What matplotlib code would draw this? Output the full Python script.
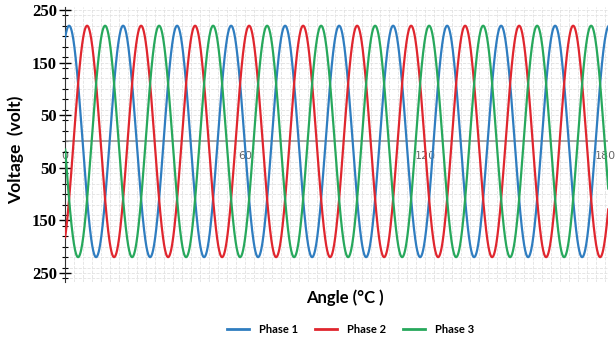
"""
Three-phase voltage waveforms over angle.
"""

import numpy as np
import matplotlib
matplotlib.use('Agg')
import matplotlib.pyplot as plt
from matplotlib.ticker import MultipleLocator, FixedLocator, FixedFormatter

# Waveform parameters
phase_names = ['Phase 1', 'Phase 2', 'Phase 3']
phase_colors = ['#2f7dc0', '#e0262e', '#27a85c']
amplitude = 220            # peak voltage (volt)
period = 18                # angle units per cycle
peak_offsets = [1.3, 7.3, 13.3]   # first peak position of each phase

x_ticks = [0, 60, 120, 180]
y_ticks = [250, 150, 50, -50, -150, -250]
y_tick_labels = ['250', '150', '50', '50', '150', '250']

angle = np.linspace(0, 181, 3000)

fig = plt.figure(figsize=(6.15, 3.4), dpi=100)
ax = fig.add_axes([0.106, 0.171, 0.883, 0.809])

for name, color, off in zip(phase_names, phase_colors, peak_offsets):
    volt = amplitude * np.cos(2 * np.pi * (angle - off) / period)
    ax.plot(angle, volt, color=color, linewidth=1.6, label=name, zorder=3)

ax.set_xlim(0, 181)
ax.set_ylim(-267, 256)

# zero line
ax.axhline(0, color='#9a9a9a', linewidth=1.2, zorder=2)

# y axis: black spine with crossing ticks
ax.yaxis.set_major_locator(FixedLocator(y_ticks))
ax.yaxis.set_major_formatter(FixedFormatter(y_tick_labels))
ax.yaxis.set_minor_locator(MultipleLocator(20))
ax.tick_params(axis='y', which='major', direction='inout', length=8, width=1,
               labelsize=12, pad=2)
ax.tick_params(axis='y', which='minor', direction='inout', length=5, width=0.8)
for lbl in ax.get_yticklabels():
    lbl.set_fontfamily('Liberation Serif')
    lbl.set_fontweight('bold')

# x axis: labels sit under the zero line
ax.spines['bottom'].set_position(('data', 0))
ax.spines['bottom'].set_visible(False)
ax.xaxis.set_major_locator(FixedLocator(x_ticks))
ax.xaxis.set_minor_locator(MultipleLocator(3))
ax.tick_params(axis='x', which='both', length=0, pad=7, labelsize=8,
               labelcolor='#666666')

for side in ['top', 'right']:
    ax.spines[side].set_visible(False)
ax.spines['left'].set_color('#333333')

# faint graph-paper grid
ax.grid(True, which='both', color='#e2e2e2', linewidth=0.6, linestyle='--', zorder=0)

fig.text(0.025, 0.56, 'Voltage  (volt)', rotation=90, ha='center', va='center',
         fontsize=12.5, fontweight='bold', family='Lato')
fig.text(0.561, 0.124, 'Angle (°C )', ha='center', va='center',
         fontsize=12, fontweight='bold', family='Lato')

leg = fig.legend(loc='center', bbox_to_anchor=(0.57, 0.03), ncol=3, frameon=False,
                 prop={'family': 'Lato', 'weight': 'bold', 'size': 8},
                 handlelength=2.0, handletextpad=0.9, columnspacing=1.5)
for line in leg.get_lines():
    line.set_linewidth(2)

plt.savefig('out.png', dpi=100)
plt.close()
